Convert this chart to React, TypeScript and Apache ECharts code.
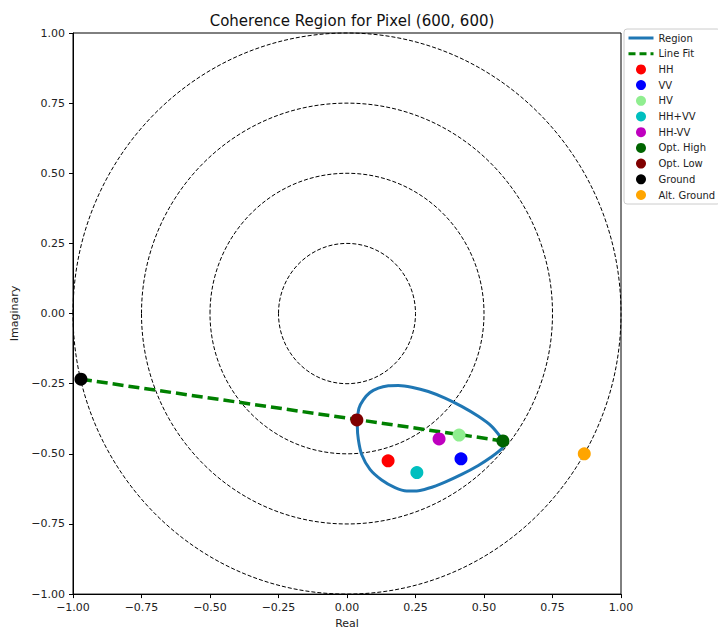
import React, { useEffect, useRef } from "react";
import * as echarts from "echarts";

const TITLE = "Coherence Region for Pixel (600, 600)";
const X_NAME = "Real";
const Y_NAME = "Imaginary";
const CIRCLE_RADII = [0.25, 0.5, 0.75, 1.0];

// Closed coherence region boundary (x, y)
const REGION_X = [0.0377, 0.0438, 0.0596, 0.0839, 0.1144, 0.1509, 0.1873, 0.236, 0.2968, 0.3577, 0.4185, 0.4793, 0.528, 0.5584, 0.5742, 0.5645, 0.528, 0.4793, 0.4185, 0.3577, 0.2968, 0.2543, 0.2178, 0.1752, 0.1265, 0.0839, 0.0535, 0.0414, 0.0377, 0.0377];
const REGION_Y = [-0.3782, -0.3369, -0.3073, -0.2813, -0.266, -0.2577, -0.2565, -0.2624, -0.2778, -0.3014, -0.331, -0.3664, -0.4019, -0.4373, -0.461, -0.4823, -0.5106, -0.5414, -0.5733, -0.6005, -0.6229, -0.6324, -0.6324, -0.6206, -0.5934, -0.5556, -0.5024, -0.4492, -0.4019, -0.3782];

// Line fit endpoints
const FIT_X = [-0.971, 0.569];
const FIT_Y = [-0.234, -0.454];

const POINT_NAMES = ["HH", "VV", "HV", "HH+VV", "HH-VV", "Opt. High", "Opt. Low", "Ground", "Alt. Ground"];
const POINT_X = [0.15, 0.416, 0.409, 0.255, 0.336, 0.569, 0.036, -0.971, 0.866];
const POINT_Y = [-0.525, -0.518, -0.433, -0.567, -0.447, -0.454, -0.379, -0.234, -0.5];
const POINT_COLORS = ["#ff0000", "#0000ff", "#90ee90", "#00bfbf", "#bf00bf", "#006400", "#800000", "#000000", "#ffa500"];

const FONT = "DejaVu Sans";

const fmt = (v: number) => (v < 0 ? "\u2212" : "") + Math.abs(v).toFixed(2);

export default function App() {
  const ref = useRef<HTMLDivElement>(null);
  useEffect(() => {
    if (!ref.current) return;
    document.body.style.margin = "0";
    document.documentElement.style.overflow = "hidden";
    const chart = echarts.init(ref.current, undefined, { renderer: "svg" });

    const axisCommon = {
      type: "value" as const,
      min: -1,
      max: 1,
      interval: 0.25,
      splitLine: { show: false },
      axisLine: { show: true, onZero: false, lineStyle: { color: "#000", width: 1 } },
      axisTick: { show: true, length: 4, lineStyle: { color: "#000" } },
      axisLabel: { formatter: fmt, color: "#222", fontSize: 11, fontFamily: FONT },
      nameLocation: "middle" as const,
      nameTextStyle: { color: "#222", fontSize: 11, fontFamily: FONT },
    };

    const scatterSeries = POINT_NAMES.map((n, i) => ({
      name: n,
      type: "scatter",
      data: [[POINT_X[i], POINT_Y[i]]],
      symbol: "circle",
      symbolSize: 13,
      itemStyle: { color: POINT_COLORS[i], opacity: 1 },
      z: 5,
    }));

    const hidden = { color: "rgba(0,0,0,0)", borderWidth: 0, opacity: 0 };

    chart.setOption({
      animation: false,
      title: {
        text: TITLE,
        left: 347,
        top: 8,
        textAlign: "center",
        textStyle: { fontFamily: FONT, fontSize: 15, fontWeight: "normal", color: "#111" },
      },
      grid: { left: 73, top: 33, width: 548, height: 564, show: true, borderColor: "#000", borderWidth: 1, backgroundColor: "transparent" },
      xAxis: { ...axisCommon, name: X_NAME, nameGap: 22 },
      yAxis: { ...axisCommon, name: Y_NAME, nameGap: 46 },
      legend: {
        orient: "vertical",
        left: 624,
        top: 29,
        padding: [4, 5, 4, 3],
        itemWidth: 25,
        itemHeight: 10,
        itemGap: 5.7,
        backgroundColor: "#fff",
        borderColor: "#ccc",
        borderWidth: 1,
        borderRadius: 3,
        textStyle: { fontFamily: FONT, fontSize: 10, color: "#222", lineHeight: 10 },
        data: [
          { name: "Region", itemStyle: hidden, lineStyle: { width: 3, color: "#1f77b4" } },
          { name: "Line Fit", itemStyle: hidden, lineStyle: { width: 3, color: "#008000", type: [7, 4] } },
          ...POINT_NAMES.map((n) => ({ name: n, icon: "circle" })),
        ],
      },
      series: [
        {
          name: "circles",
          type: "custom",
          data: CIRCLE_RADII.map((r) => [0, 0, r]),
          encode: { x: 0, y: 1 },
          silent: true,
          z: 1,
          renderItem: (params: any, api: any) => {
            const r = api.value(2);
            const c = api.coord([0, 0]);
            const s = api.size([r, r]);
            return {
              type: "ellipse",
              shape: { cx: c[0], cy: c[1], rx: s[0], ry: s[1] },
              style: { fill: "none", stroke: "#000", lineWidth: 1, lineDash: [4, 2] },
            };
          },
        },
        {
          name: "Region",
          type: "line",
          data: REGION_X.map((x, i) => [x, REGION_Y[i]]),
          smooth: 0.25,
          symbol: "none",
          lineStyle: { color: "#1f77b4", width: 3 },
          itemStyle: { color: "#1f77b4" },
          z: 2,
        },
        {
          name: "Line Fit",
          type: "line",
          data: FIT_X.map((x, i) => [x, FIT_Y[i]]),
          symbol: "none",
          lineStyle: { color: "#008000", width: 3.5, type: [11, 5] },
          itemStyle: { color: "#008000" },
          z: 3,
        },
        ...scatterSeries,
      ],
    });
    return () => chart.dispose();
  }, []);
  return <div ref={ref} style={{ width: 718, height: 634 }} />;
}
